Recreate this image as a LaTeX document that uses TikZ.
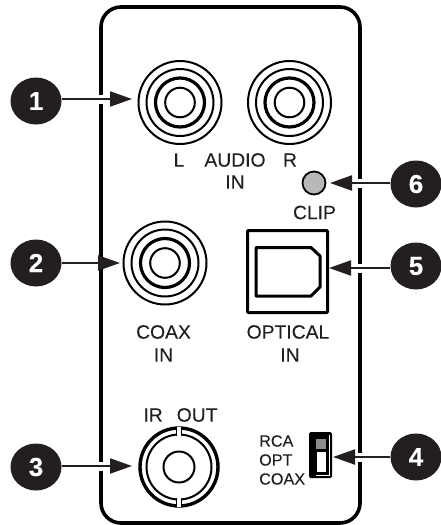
\documentclass[tikz,border=0pt]{standalone}
\usepackage{fontspec}
\setmainfont{Liberation Sans}
\newfontfamily\lblfont{Liberation Sans}[FakeBold=0.15]
\newfontfamily\numfont{Liberation Sans Bold}[FakeBold=0.2]
\usetikzlibrary{arrows.meta,shapes.geometric}
\definecolor{ink}{HTML}{231F20}
\tikzset{
  x=1pt,y=-1pt,
  bullet/.style={ellipse,fill=ink,inner sep=0pt,minimum width=51pt,minimum height=47pt,text=white,font=\numfont\fontsize{26}{26}\selectfont},
  lbl/.style={text=ink,inner sep=0pt,font=\lblfont\fontsize{19.3}{22}\selectfont,align=center},
  small/.style={text=ink,inner sep=0pt,font=\lblfont\fontsize{16.2}{19}\selectfont,align=left},
  ring/.style={draw=black,line width=2pt,fill=none},
  thickring/.style={draw=black,line width=3.2pt,fill=none},
  wall/.style={draw=black,line width=3.6pt},
  halo/.style={draw=white,line width=9pt},
  pointer/.style={draw=ink,line width=2.2pt,-{Triangle[length=22pt,width=15pt]}},
}
\newcommand{\rcajack}[3]{%
  \node[circle,inner sep=0pt,minimum size=86pt] (#1) at (#2,#3) {};
  \draw[ring] (#2,#3) circle[radius=41.5];
  \draw[ring] (#2,#3) circle[radius=33.5];
  \draw[thickring] (#2,#3) circle[radius=24.5];
  \draw[ring] (#2,#3) circle[radius=14.8];
}
\begin{document}
\begin{tikzpicture}
\useasboundingbox (0,0) rectangle (440,525);
% panel
\draw[wall] (101,523) [rounded corners=20pt] -- (101,7) -- (360,7) -- (360,523) -- cycle;
% jacks
\rcajack{jackL}{180}{102.5}
\rcajack{jackR}{289.5}{102.5}
\rcajack{jackC}{165}{263}
% BNC
\node[circle,inner sep=0pt,minimum size=80pt] (bnc) at (179,467) {};
\draw[draw=black,line width=3.4pt] (179,467) circle[radius=39];
\draw[ring] (179,467) circle[radius=32.5];
\draw[ring] (179,467) circle[radius=15.5];
\foreach \ya/\yb in {427/436,498/507}{
  \fill[white] (177,\ya) rectangle (181,\yb);
  \draw[black,line width=.7pt] (176.6,\ya) -- (176.6,\yb) (181.4,\ya) -- (181.4,\yb);
}
% LED
\node[circle,draw=black,line width=1.8pt,fill=black!28,inner sep=0pt,minimum size=23pt] (led) at (314,183) {};
% optical
\node[draw=black,line width=3pt,rounded corners=1pt,inner sep=0pt,minimum width=80pt,minimum height=82pt] (opt) at (287.5,271.5) {};
\draw[black,line width=3pt,line join=round] (256,247.5) -- (311,247.5) -- (320,256) -- (320,287) -- (311,296) -- (256,296) -- cycle;
% switch
\node[fill=black,rounded corners=1.5pt,inner sep=0pt,minimum width=23pt,minimum height=46pt] (sw) at (320.5,455) {};
\fill[black!45] (316,439) rectangle (326,449);
\fill[white] (317,452) rectangle (326,472);
\draw[white,line width=.6pt] (329,434.5) -- (329,475.5) -- (316,475.5);
% labels
\node[lbl] (tL) at (179,160) {L};
\node[lbl] (tAudio) at (235,160) {AUDIO};
\node[lbl] (tR) at (290,160) {R};
\node[lbl] (tIn) at (235,182) {IN};
\node[lbl] (tClip) at (314.5,212.5) {CLIP};
\node[lbl] (tCoax) at (163.5,332) {COAX};
\node[lbl] (tCoaxIn) at (163.5,355) {IN};
\node[lbl] (tOpt) at (288,332) {OPTICAL};
\node[lbl] (tOptIn) at (290,355) {IN};
\node[lbl] (tIr) at (180.5,415) {IR\hspace{14pt}OUT};
\node[small,anchor=west] (tRca) at (259,441) {RCA};
\node[small,anchor=west] (tOp) at (259,460) {OPT};
\node[small,anchor=west] (tCx) at (259,479) {COAX};
% bullets
\node[bullet] (b1) at (36,101) {1};
\node[bullet] (b2) at (36,263) {2};
\node[bullet] (b3) at (36,467) {3};
\node[bullet] (b4) at (416,457) {4};
\node[bullet] (b5) at (416,266) {5};
\node[bullet] (b6) at (416,184) {6};
% arrow tips
\coordinate (t1) at (132,99);
\coordinate (t2) at (120,263);
\coordinate (t3) at (132,466);
\coordinate (t4) at (333,457);
\coordinate (t5) at (329,268);
\coordinate (t6) at (330,183);
% halos in the wall
\draw[halo] (96,99) -- (106,99);
\draw[halo] (96,263) -- (106,263);
\draw[halo] (96,466) -- (106,466);
\draw[halo] (355,457) -- (365,457);
\draw[halo] (355,268) -- (365,268);
\draw[halo] (355,183) -- (365,183);
% connectors
\draw[pointer] (b1.east |- t1) -- (t1);
\draw[pointer] (b2.east |- t2) -- (t2);
\draw[pointer] (b3.east |- t3) -- (t3);
\draw[pointer] (b4.west |- t4) -- (t4);
\draw[pointer] (b5.west |- t5) -- (t5);
\draw[pointer] (b6.west |- t6) -- (t6);
\end{tikzpicture}
\end{document}
